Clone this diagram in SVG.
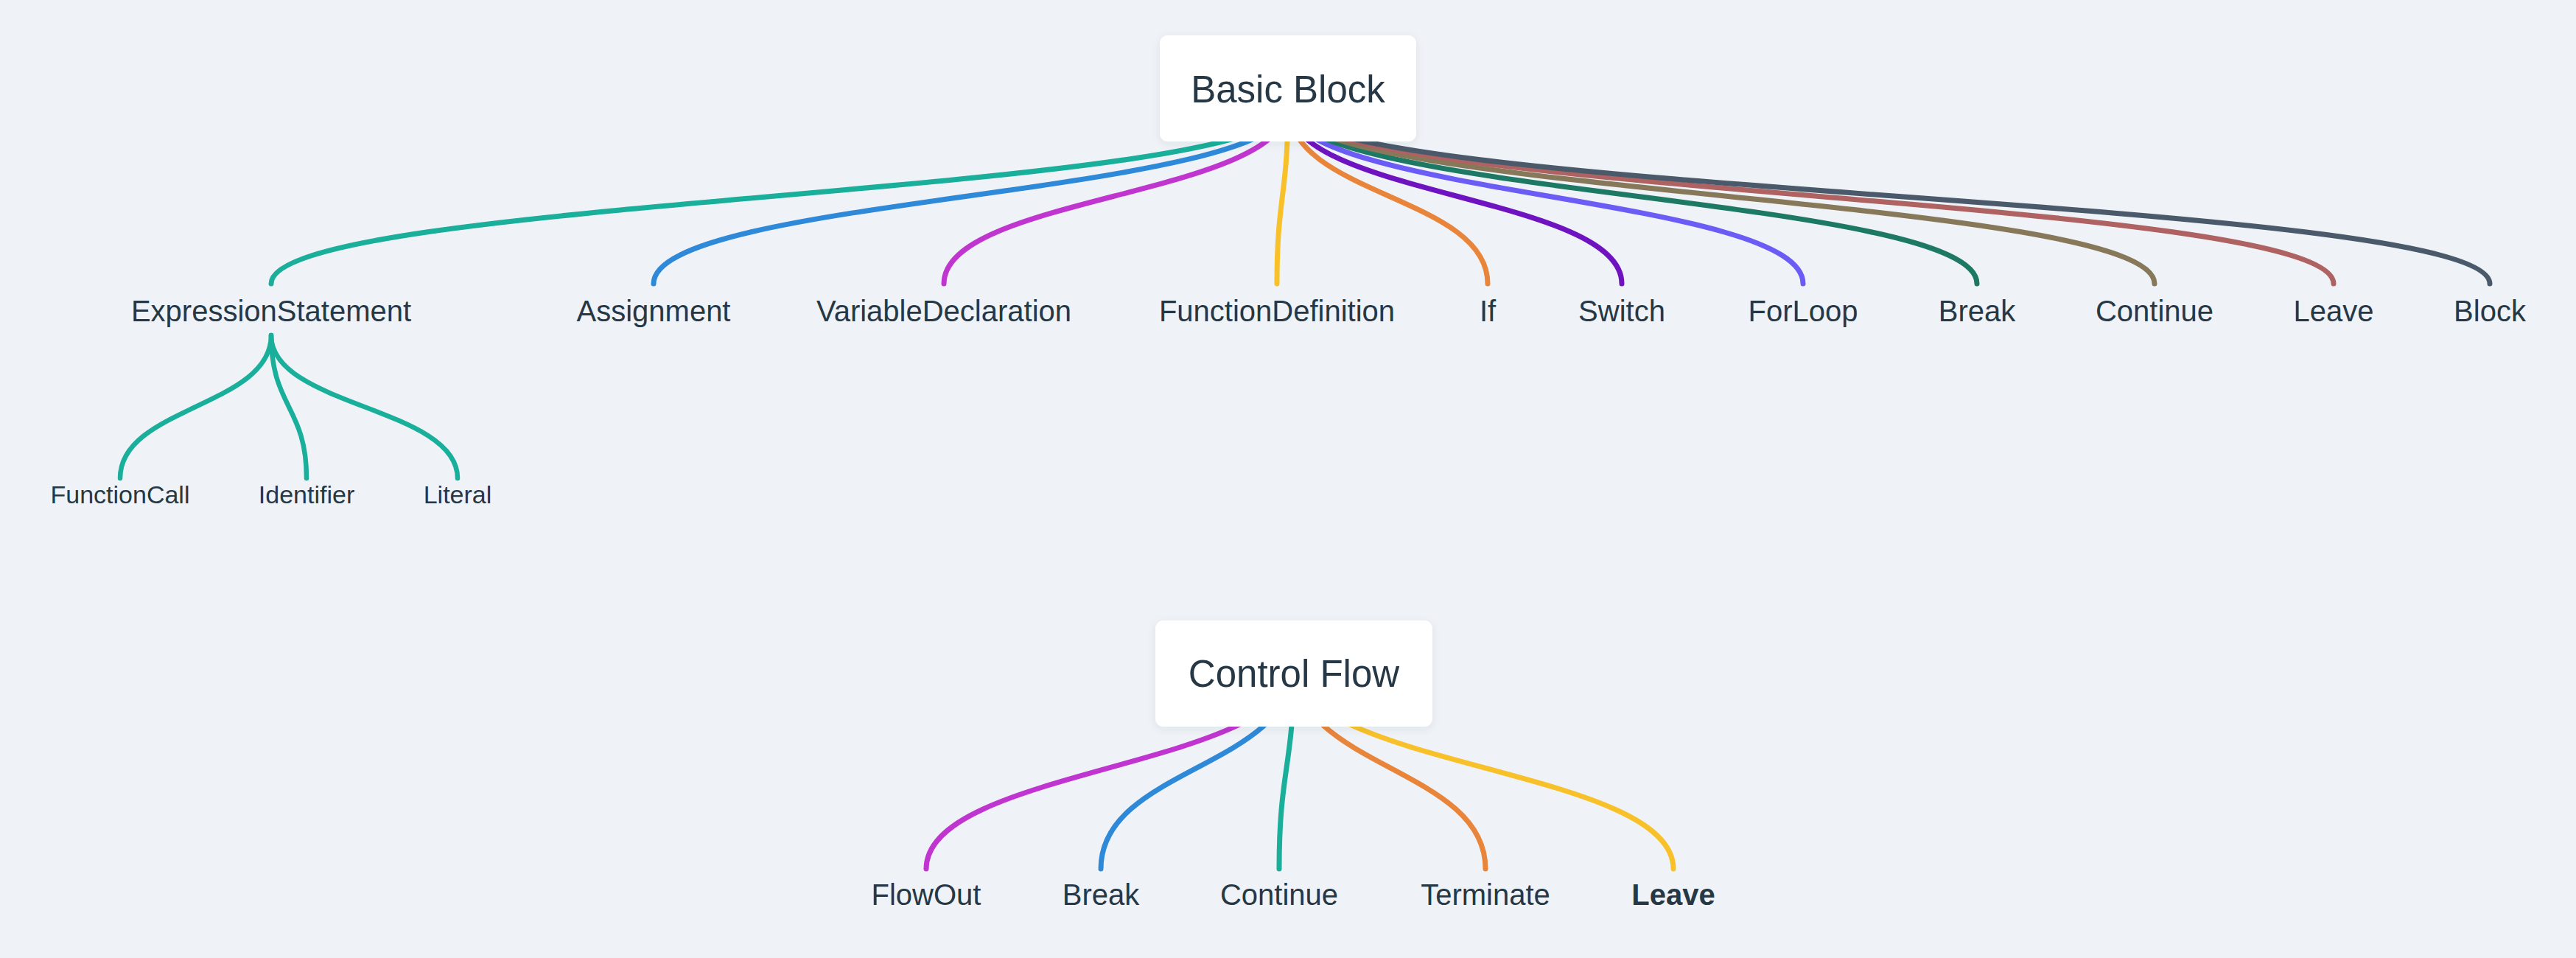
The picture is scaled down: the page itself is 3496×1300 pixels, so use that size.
<svg xmlns="http://www.w3.org/2000/svg" width="3496" height="1300" viewBox="0 0 3496 1300">
<defs>
<filter id="sh" x="-10%" y="-10%" width="120%" height="130%">
<feDropShadow dx="0" dy="3" stdDeviation="6" flood-color="#1e2d3c" flood-opacity="0.08"/>
</filter>
</defs>
<style>
.bg{fill:#eff3f7}
.box{fill:#ffffff;filter:url(#sh)}
.lk{fill:none;stroke-width:7;stroke-linecap:round}
.lk2{fill:none;stroke-width:6.5;stroke-linecap:round}
text{font-family:"Liberation Sans",Arial,sans-serif;fill:#263746;text-anchor:middle}
.root{font-size:51px}
.l1{font-size:40px}
.l2{font-size:34px}
.b{font-weight:bold}
</style>
<rect class="bg" x="0" y="0" width="3496" height="1300"/>
<g id="connectors">
<path class="lk" stroke="#1aaf9b" d="M1748,143 C1748,266 368,266 368,385"/>
<path class="lk" stroke="#2e89d9" d="M1748,143 C1748,266 887,266 887,385"/>
<path class="lk" stroke="#c035cf" d="M1748,143 C1748,266 1281,266 1281,385"/>
<path class="lk" stroke="#f8c12a" d="M1748,143 C1748,266 1733,266 1733,385"/>
<path class="lk" stroke="#e8853b" d="M1748,143 C1748,266 2019,266 2019,385"/>
<path class="lk" stroke="#6f12bf" d="M1748,143 C1748,266 2201,266 2201,385"/>
<path class="lk" stroke="#6b5cf5" d="M1748,143 C1748,266 2447,266 2447,385"/>
<path class="lk" stroke="#1e7964" d="M1748,143 C1748,266 2683,266 2683,385"/>
<path class="lk" stroke="#87785a" d="M1748,143 C1748,266 2924,266 2924,385"/>
<path class="lk" stroke="#ae6262" d="M1748,143 C1748,266 3167,266 3167,385"/>
<path class="lk" stroke="#4a5a6a" d="M1748,143 C1748,266 3379,266 3379,385"/>
<path class="lk2" stroke="#1aaf9b" d="M368,455 C368,552 163,552 163,649"/>
<path class="lk2" stroke="#1aaf9b" d="M368,455 C368,552 416,552 416,649"/>
<path class="lk2" stroke="#1aaf9b" d="M368,455 C368,552 621,552 621,649"/>
<path class="lk" stroke="#c035cf" d="M1756,902 C1756,1042 1257,1042 1257,1179"/>
<path class="lk" stroke="#2e89d9" d="M1756,902 C1756,1042 1494,1042 1494,1179"/>
<path class="lk" stroke="#1aaf9b" d="M1756,902 C1756,1042 1736,1042 1736,1179"/>
<path class="lk" stroke="#e8853b" d="M1756,902 C1756,1042 2016,1042 2016,1179"/>
<path class="lk" stroke="#f8c12a" d="M1756,902 C1756,1042 2271,1042 2271,1179"/>
</g>
<g id="basic-block"><rect class="box" x="1574" y="48" width="348" height="144" rx="11"/><text class="root" x="1748" y="139">Basic Block</text></g>
<g id="expression-statement"><text class="l1" x="368" y="436">ExpressionStatement</text></g>
<g id="assignment"><text class="l1" x="887" y="436">Assignment</text></g>
<g id="variable-declaration"><text class="l1" x="1281" y="436">VariableDeclaration</text></g>
<g id="function-definition"><text class="l1" x="1733" y="436">FunctionDefinition</text></g>
<g id="if"><text class="l1" x="2019" y="436">If</text></g>
<g id="switch"><text class="l1" x="2201" y="436">Switch</text></g>
<g id="forloop"><text class="l1" x="2447" y="436">ForLoop</text></g>
<g id="break"><text class="l1" x="2683" y="436">Break</text></g>
<g id="continue"><text class="l1" x="2924" y="436">Continue</text></g>
<g id="leave"><text class="l1" x="3167" y="436">Leave</text></g>
<g id="block"><text class="l1" x="3379" y="436">Block</text></g>
<g id="function-call"><text class="l2" x="163" y="683">FunctionCall</text></g>
<g id="identifier"><text class="l2" x="416" y="683">Identifier</text></g>
<g id="literal"><text class="l2" x="621" y="683">Literal</text></g>
<g id="control-flow"><rect class="box" x="1568" y="842" width="376" height="144" rx="11"/><text class="root" x="1756" y="932">Control Flow</text></g>
<g id="cf-flowout"><text class="l1" x="1257" y="1228">FlowOut</text></g>
<g id="cf-break"><text class="l1" x="1494" y="1228">Break</text></g>
<g id="cf-continue"><text class="l1" x="1736" y="1228">Continue</text></g>
<g id="cf-terminate"><text class="l1" x="2016" y="1228">Terminate</text></g>
<g id="cf-leave"><text class="l1 b" x="2271" y="1228">Leave</text></g>
</svg>
